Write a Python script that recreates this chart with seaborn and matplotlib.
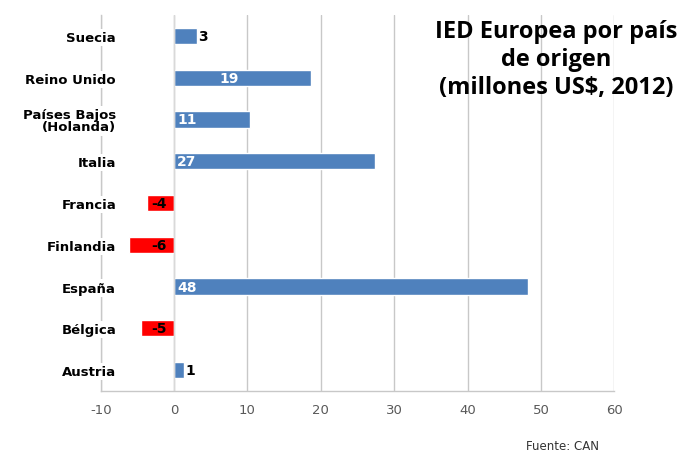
import matplotlib
matplotlib.use("Agg")
import matplotlib.pyplot as plt
import seaborn as sns

# data (top to bottom)
paises = ["Suecia", "Reino Unido", "Países Bajos\n(Holanda)", "Italia", "Francia",
          "Finlandia", "España", "Bélgica", "Austria"]
valores = [3.1, 18.7, 10.4, 27.4, -3.7, -6.1, 48.2, -4.5, 1.3]
etiquetas = ["3", "19", "11", "27", "-4", "-6", "48", "-5", "1"]
x_ticks = [-10, 0, 10, 20, 30, 40, 50, 60]

AZUL = "#4F81BD"
ROJO = "#FF0000"

sns.set_theme(style="white")
plt.rcParams["font.family"] = ["DejaVu Sans"]

fig = plt.figure(figsize=(6.81, 4.60), dpi=100)
ax = fig.add_axes([0.148, 0.148, 0.754, 0.817])

colores = [AZUL if v >= 0 else ROJO for v in valores]
sns.barplot(x=valores, y=paises, hue=paises, palette=colores, legend=False,
            orient="h", width=0.39, ax=ax, saturation=1)

ax.set_xlim(-10, 60)
ax.set_ylim(8.5, -0.5)
ax.set_xticks(x_ticks)
ax.set_xticklabels([str(t) for t in x_ticks], fontsize=9.5, color="#595959")
ax.tick_params(axis="x", length=3, color="#BFBFBF", pad=6)
ax.tick_params(axis="y", length=0, pad=-11)
for lbl in ax.get_yticklabels():
    lbl.set_fontweight("bold")
    lbl.set_fontsize(9.5)
    lbl.set_color("black")
    lbl.set_linespacing(0.95)
    lbl.set_bbox(dict(facecolor="white", edgecolor="none", pad=1.5))

ax.grid(axis="x", color="#C8C8C8", linewidth=1.0)
ax.set_axisbelow(True)
ax.axvline(0, color="#D9D9D9", linewidth=1.0, zorder=1)
for side in ["top", "right"]:
    ax.spines[side].set_visible(False)
for side in ["left", "bottom"]:
    ax.spines[side].set_color("#C8C8C8")
    ax.spines[side].set_linewidth(1.0)
ax.spines["left"].set_zorder(0.2)
ax.set_xlabel("")
ax.set_ylabel("")

# value labels
for i, (v, t) in enumerate(zip(valores, etiquetas)):
    if v < 0:
        ax.text(-1.0, i, t, ha="right", va="center", fontsize=10,
                fontweight="bold", color="black")
    elif v < 5:
        ax.text(v + 0.2, i, t, ha="left", va="center", fontsize=10,
                fontweight="bold", color="black")
    elif t == "19":
        ax.text(v * 0.33, i, t, ha="left", va="center", fontsize=10,
                fontweight="bold", color="white")
    else:
        ax.text(0.4, i, t, ha="left", va="center", fontsize=10,
                fontweight="bold", color="white")

fig.text(0.817, 0.957, "IED Europea por país\nde origen\n(millones US$, 2012)",
         ha="center", va="top", fontsize=17, fontweight="bold",
         family=["Open Sans", "DejaVu Sans"], linespacing=1.22, color="black")
fig.text(0.826, 0.015, "Fuente: CAN", ha="center", va="bottom", fontsize=8.5,
         color="#333333")

fig.savefig("out.png", dpi=100, facecolor="white")
